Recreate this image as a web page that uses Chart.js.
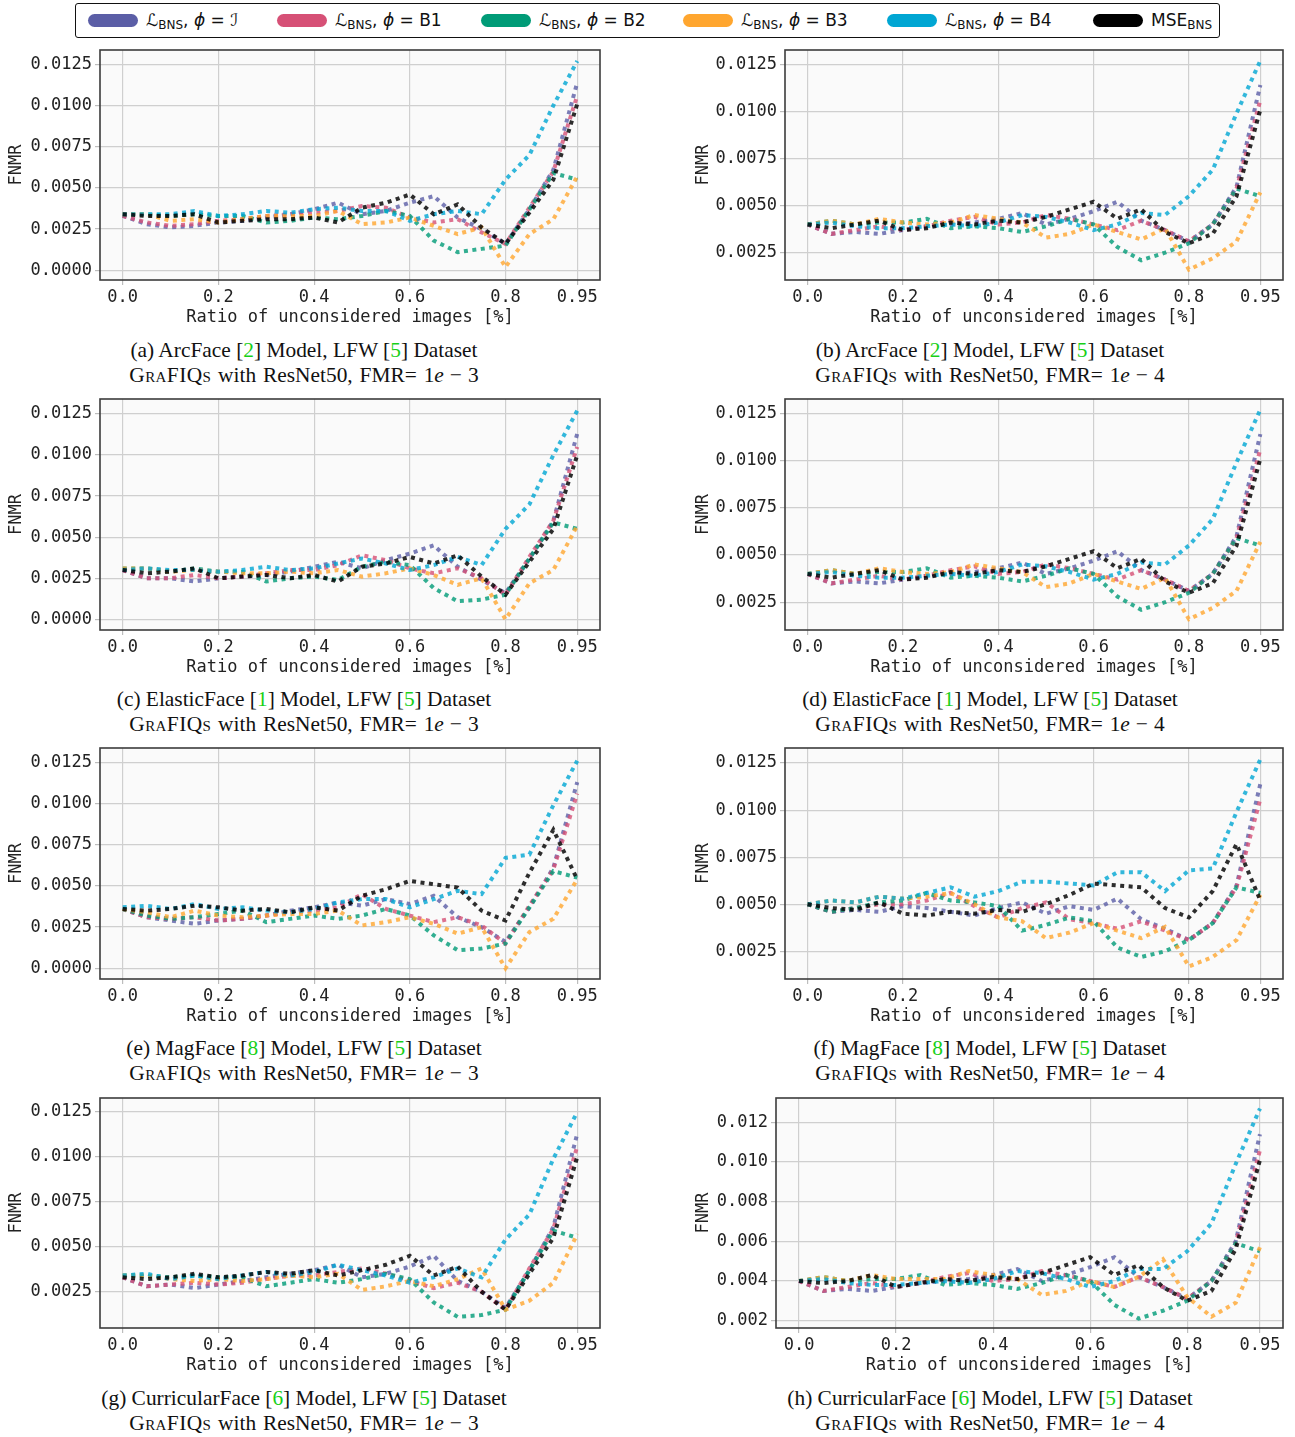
<!DOCTYPE html>
<html>
<head>
<meta charset="utf-8">
<script src="https://cdn.jsdelivr.net/npm/chart.js@4.4.1/dist/chart.umd.min.js"></script>
<style>
  body { margin: 0; background: #fff; width: 1295px; height: 1437px; position: relative; overflow: hidden; }
  #legend { position: absolute; left: 75px; top: 3px; width: 1143px; height: 33px; border: 1.5px solid #111; border-radius: 3px;
            font-family: 'DejaVu Sans'; font-size: 17px; color: #111; }
  .item { position: absolute; top: 0; height: 33px; white-space: nowrap; }
  .pill { position: absolute; top: 10px; left: 0; width: 50px; height: 13px; border-radius: 7px; }
  .txt { position: absolute; left: 58px; top: 5px; line-height: 22px; }
  .txt sub { font-size: 12px; vertical-align: -3px; line-height: 0; }
  .box { position: absolute; }
  .cap { position: absolute; width: 640px; text-align: center; font-family: 'Liberation Serif'; font-size: 21.4px; line-height: 25px; color: #111; }
  .line2 { word-spacing: 1.5px; }
  .g { color: #18d018; }
  .sc { font-variant: small-caps; letter-spacing: 0.4px; }
  .op { display: inline-block; margin: 0 6px; }
</style>
</head>
<body>
<div id="legend"></div>
<div id="panels"></div>
<script>
// x positions (ratio of unconsidered images)
const ratios = [0, 0.05, 0.1, 0.15, 0.2, 0.25, 0.3, 0.35, 0.4, 0.45, 0.5, 0.55, 0.6, 0.65, 0.7, 0.75, 0.8, 0.85, 0.9, 0.95];
const xTicks = [0, 0.2, 0.4, 0.6, 0.8, 0.95];
const xTickLabels = ['0.0', '0.2', '0.4', '0.6', '0.8', '0.95'];
const yTicksLow = [0, 0.0025, 0.005, 0.0075, 0.01, 0.0125];
const yTicksHigh = [0.0025, 0.005, 0.0075, 0.01, 0.0125];
const yTicksMilli = [0.002, 0.004, 0.006, 0.008, 0.01, 0.012];

const seriesNames = ['ℒ<sub>BNS</sub>, <i>ϕ</i> = ℐ', 'ℒ<sub>BNS</sub>, <i>ϕ</i> = B1', 'ℒ<sub>BNS</sub>, <i>ϕ</i> = B2',
                     'ℒ<sub>BNS</sub>, <i>ϕ</i> = B3', 'ℒ<sub>BNS</sub>, <i>ϕ</i> = B4', 'MSE<sub>BNS</sub>'];
const seriesColors = ['#5b5ea6', '#d65076', '#009b77', '#ffa62f', '#00a6d3', '#000000'];

// (a) ArcFace, FMR 1e-3
const a_I   = [0.0033,0.0028,0.0026,0.0027,0.0029,0.0030,0.0032,0.0034,0.0037,0.0041,0.0034,0.0036,0.0041,0.0045,0.0032,0.0025,0.0016,0.0037,0.0061,0.0114];
const a_B1  = [0.0033,0.0029,0.0027,0.0028,0.0030,0.0031,0.0033,0.0034,0.0035,0.0036,0.0039,0.0038,0.0032,0.0029,0.0031,0.0023,0.0016,0.0038,0.0060,0.0106];
const a_B2  = [0.0034,0.0034,0.0033,0.0034,0.0033,0.0033,0.0029,0.0030,0.0032,0.0031,0.0033,0.0036,0.0033,0.0018,0.0011,0.0013,0.0015,0.0037,0.0059,0.0055];
const a_B3  = [0.0034,0.0034,0.0030,0.0031,0.0029,0.0031,0.0033,0.0033,0.0033,0.0036,0.0028,0.0029,0.0032,0.0027,0.0022,0.0026,0.0002,0.0022,0.0031,0.0057];
const a_B4  = [0.0034,0.0034,0.0034,0.0036,0.0033,0.0034,0.0036,0.0035,0.0037,0.0038,0.0036,0.0036,0.0030,0.0034,0.0036,0.0034,0.0055,0.0070,0.0100,0.0127];
const a_MSE = [0.0034,0.0033,0.0033,0.0034,0.0029,0.0030,0.0031,0.0031,0.0032,0.0029,0.0038,0.0041,0.0046,0.0034,0.0040,0.0026,0.0016,0.0035,0.0055,0.0101];

// (b) ArcFace, FMR 1e-4
const b_I   = [0.0040,0.0035,0.0036,0.0035,0.0037,0.0039,0.0040,0.0041,0.0043,0.0046,0.0040,0.0043,0.0047,0.0052,0.0042,0.0037,0.0031,0.0040,0.0060,0.0114];
const b_B1  = [0.0040,0.0035,0.0037,0.0039,0.0037,0.0039,0.0042,0.0044,0.0040,0.0041,0.0045,0.0043,0.0040,0.0037,0.0042,0.0037,0.0031,0.0040,0.0059,0.0106];
const b_B2  = [0.0040,0.0042,0.0040,0.0041,0.0041,0.0043,0.0038,0.0039,0.0038,0.0036,0.0039,0.0043,0.0040,0.0028,0.0021,0.0025,0.0030,0.0040,0.0059,0.0055];
const b_B3  = [0.0040,0.0042,0.0040,0.0043,0.0041,0.0040,0.0041,0.0045,0.0043,0.0041,0.0033,0.0035,0.0040,0.0036,0.0032,0.0038,0.0016,0.0022,0.0031,0.0057];
const b_B4  = [0.0040,0.0041,0.0039,0.0038,0.0038,0.0039,0.0040,0.0039,0.0041,0.0045,0.0044,0.0041,0.0037,0.0040,0.0046,0.0045,0.0055,0.0069,0.0099,0.0127];
const b_MSE = [0.0040,0.0038,0.0040,0.0042,0.0037,0.0038,0.0041,0.0040,0.0042,0.0041,0.0044,0.0048,0.0052,0.0043,0.0048,0.0036,0.0030,0.0035,0.0055,0.0101];

// (c) ElasticFace, FMR 1e-3
const c_I   = [0.0030,0.0025,0.0025,0.0023,0.0025,0.0026,0.0027,0.0029,0.0032,0.0035,0.0031,0.0036,0.0040,0.0045,0.0032,0.0024,0.0016,0.0037,0.0060,0.0113];
const c_B1  = [0.0030,0.0025,0.0025,0.0027,0.0025,0.0026,0.0028,0.0030,0.0030,0.0033,0.0039,0.0036,0.0031,0.0028,0.0031,0.0025,0.0015,0.0038,0.0060,0.0105];
const c_B2  = [0.0031,0.0031,0.0029,0.0031,0.0029,0.0029,0.0023,0.0025,0.0026,0.0024,0.0032,0.0035,0.0033,0.0019,0.0011,0.0012,0.0015,0.0037,0.0059,0.0055];
const c_B3  = [0.0031,0.0031,0.0029,0.0030,0.0029,0.0028,0.0028,0.0029,0.0028,0.0030,0.0026,0.0028,0.0031,0.0027,0.0021,0.0025,0.0000,0.0022,0.0030,0.0057];
const c_B4  = [0.0030,0.0031,0.0030,0.0030,0.0029,0.0030,0.0032,0.0030,0.0031,0.0034,0.0037,0.0034,0.0030,0.0033,0.0038,0.0033,0.0055,0.0070,0.0100,0.0127];
const c_MSE = [0.0030,0.0028,0.0029,0.0031,0.0025,0.0026,0.0027,0.0025,0.0027,0.0023,0.0032,0.0034,0.0038,0.0034,0.0039,0.0026,0.0015,0.0035,0.0055,0.0100];

// (d) ElasticFace, FMR 1e-4
const d_I   = [0.0040,0.0035,0.0036,0.0035,0.0037,0.0039,0.0040,0.0041,0.0043,0.0046,0.0040,0.0043,0.0047,0.0052,0.0042,0.0037,0.0031,0.0040,0.0060,0.0114];
const d_B1  = [0.0040,0.0035,0.0037,0.0039,0.0037,0.0039,0.0042,0.0044,0.0040,0.0041,0.0045,0.0043,0.0040,0.0037,0.0042,0.0037,0.0031,0.0040,0.0059,0.0106];
const d_B2  = [0.0040,0.0042,0.0040,0.0041,0.0041,0.0043,0.0038,0.0039,0.0038,0.0036,0.0039,0.0043,0.0040,0.0028,0.0021,0.0025,0.0030,0.0040,0.0059,0.0055];
const d_B3  = [0.0040,0.0042,0.0040,0.0043,0.0041,0.0040,0.0041,0.0045,0.0043,0.0041,0.0033,0.0035,0.0040,0.0036,0.0032,0.0038,0.0016,0.0022,0.0031,0.0057];
const d_B4  = [0.0040,0.0041,0.0039,0.0038,0.0038,0.0039,0.0040,0.0039,0.0041,0.0045,0.0044,0.0041,0.0037,0.0040,0.0046,0.0045,0.0055,0.0069,0.0099,0.0127];
const d_MSE = [0.0040,0.0038,0.0040,0.0042,0.0037,0.0038,0.0041,0.0040,0.0042,0.0041,0.0044,0.0048,0.0052,0.0043,0.0048,0.0036,0.0030,0.0035,0.0055,0.0101];

// (e) MagFace, FMR 1e-3
const e_I   = [0.0036,0.0031,0.0029,0.0027,0.0029,0.0030,0.0032,0.0035,0.0037,0.0040,0.0038,0.0042,0.0039,0.0044,0.0031,0.0025,0.0016,0.0037,0.0061,0.0113];
const e_B1  = [0.0036,0.0031,0.0030,0.0031,0.0029,0.0030,0.0032,0.0034,0.0035,0.0037,0.0045,0.0036,0.0032,0.0028,0.0031,0.0026,0.0015,0.0038,0.0060,0.0106];
const e_B2  = [0.0036,0.0032,0.0030,0.0031,0.0033,0.0035,0.0028,0.0030,0.0032,0.0030,0.0032,0.0036,0.0032,0.0020,0.0011,0.0012,0.0015,0.0037,0.0059,0.0055];
const e_B3  = [0.0036,0.0034,0.0031,0.0035,0.0032,0.0031,0.0032,0.0033,0.0033,0.0035,0.0026,0.0028,0.0031,0.0027,0.0021,0.0025,0.0000,0.0022,0.0030,0.0054];
const e_B4  = [0.0037,0.0038,0.0036,0.0039,0.0036,0.0037,0.0035,0.0034,0.0036,0.0040,0.0042,0.0042,0.0037,0.0042,0.0047,0.0045,0.0067,0.0069,0.0099,0.0126];
const e_MSE = [0.0036,0.0035,0.0036,0.0038,0.0037,0.0035,0.0036,0.0034,0.0037,0.0035,0.0044,0.0048,0.0053,0.0051,0.0049,0.0035,0.0029,0.0058,0.0084,0.0054];

// (f) MagFace, FMR 1e-4
const f_I   = [0.0050,0.0046,0.0047,0.0046,0.0049,0.0048,0.0046,0.0044,0.0048,0.0051,0.0045,0.0049,0.0047,0.0053,0.0042,0.0037,0.0031,0.0040,0.0060,0.0114];
const f_B1  = [0.0050,0.0046,0.0048,0.0050,0.0050,0.0052,0.0056,0.0049,0.0043,0.0048,0.0051,0.0042,0.0040,0.0037,0.0041,0.0036,0.0031,0.0040,0.0059,0.0106];
const f_B2  = [0.0050,0.0046,0.0048,0.0051,0.0052,0.0056,0.0052,0.0051,0.0049,0.0036,0.0039,0.0043,0.0041,0.0027,0.0022,0.0025,0.0031,0.0040,0.0059,0.0056];
const f_B3  = [0.0050,0.0052,0.0051,0.0054,0.0053,0.0054,0.0056,0.0050,0.0043,0.0041,0.0032,0.0035,0.0040,0.0036,0.0032,0.0038,0.0017,0.0022,0.0031,0.0055];
const f_B4  = [0.0050,0.0052,0.0051,0.0054,0.0053,0.0056,0.0059,0.0054,0.0057,0.0062,0.0062,0.0061,0.0060,0.0067,0.0067,0.0057,0.0068,0.0069,0.0099,0.0127];
const f_MSE = [0.0050,0.0048,0.0047,0.0051,0.0045,0.0044,0.0046,0.0045,0.0047,0.0046,0.0050,0.0055,0.0061,0.0060,0.0059,0.0048,0.0043,0.0057,0.0082,0.0052];

// (g) CurricularFace, FMR 1e-3
const g_I   = [0.0033,0.0028,0.0029,0.0027,0.0029,0.0031,0.0033,0.0035,0.0037,0.0040,0.0033,0.0035,0.0039,0.0045,0.0031,0.0025,0.0016,0.0037,0.0061,0.0113];
const g_B1  = [0.0033,0.0028,0.0029,0.0030,0.0029,0.0030,0.0032,0.0034,0.0034,0.0036,0.0038,0.0035,0.0031,0.0027,0.0030,0.0025,0.0015,0.0038,0.0060,0.0106];
const g_B2  = [0.0034,0.0034,0.0033,0.0034,0.0033,0.0033,0.0028,0.0030,0.0032,0.0030,0.0032,0.0035,0.0032,0.0019,0.0011,0.0012,0.0015,0.0037,0.0059,0.0055];
const g_B3  = [0.0034,0.0034,0.0032,0.0031,0.0032,0.0031,0.0032,0.0034,0.0033,0.0035,0.0026,0.0028,0.0031,0.0028,0.0032,0.0038,0.0015,0.0020,0.0030,0.0057];
const g_B4  = [0.0034,0.0035,0.0032,0.0034,0.0032,0.0034,0.0036,0.0034,0.0036,0.0040,0.0037,0.0034,0.0030,0.0033,0.0038,0.0033,0.0054,0.0068,0.0099,0.0125];
const g_MSE = [0.0033,0.0032,0.0033,0.0035,0.0033,0.0034,0.0036,0.0035,0.0037,0.0034,0.0037,0.0040,0.0045,0.0034,0.0039,0.0025,0.0015,0.0035,0.0055,0.0100];

// (h) CurricularFace, FMR 1e-4
const h_I   = [0.0040,0.0035,0.0036,0.0035,0.0037,0.0039,0.0040,0.0041,0.0043,0.0046,0.0040,0.0043,0.0047,0.0052,0.0042,0.0037,0.0031,0.0040,0.0060,0.0114];
const h_B1  = [0.0040,0.0035,0.0037,0.0039,0.0037,0.0039,0.0042,0.0044,0.0040,0.0041,0.0045,0.0043,0.0040,0.0037,0.0042,0.0037,0.0031,0.0040,0.0059,0.0106];
const h_B2  = [0.0040,0.0042,0.0040,0.0041,0.0041,0.0043,0.0038,0.0039,0.0038,0.0036,0.0039,0.0043,0.0040,0.0028,0.0021,0.0025,0.0030,0.0040,0.0059,0.0055];
const h_B3  = [0.0040,0.0042,0.0040,0.0043,0.0041,0.0041,0.0041,0.0045,0.0043,0.0041,0.0033,0.0035,0.0040,0.0037,0.0042,0.0051,0.0032,0.0022,0.0029,0.0057];
const h_B4  = [0.0040,0.0041,0.0039,0.0038,0.0038,0.0039,0.0040,0.0039,0.0041,0.0045,0.0044,0.0041,0.0037,0.0040,0.0046,0.0046,0.0055,0.0069,0.0099,0.0127];
const h_MSE = [0.0040,0.0039,0.0040,0.0043,0.0037,0.0039,0.0041,0.0040,0.0042,0.0041,0.0044,0.0048,0.0052,0.0043,0.0048,0.0037,0.0030,0.0035,0.0056,0.0101];

const captions = [
  ['(a) ArcFace [<span class="g">2</span>] Model, LFW [<span class="g">5</span>] Dataset', '3'],
  ['(b) ArcFace [<span class="g">2</span>] Model, LFW [<span class="g">5</span>] Dataset', '4'],
  ['(c) ElasticFace [<span class="g">1</span>] Model, LFW [<span class="g">5</span>] Dataset', '3'],
  ['(d) ElasticFace [<span class="g">1</span>] Model, LFW [<span class="g">5</span>] Dataset', '4'],
  ['(e) MagFace [<span class="g">8</span>] Model, LFW [<span class="g">5</span>] Dataset', '3'],
  ['(f) MagFace [<span class="g">8</span>] Model, LFW [<span class="g">5</span>] Dataset', '4'],
  ['(g) CurricularFace [<span class="g">6</span>] Model, LFW [<span class="g">5</span>] Dataset', '3'],
  ['(h) CurricularFace [<span class="g">6</span>] Model, LFW [<span class="g">5</span>] Dataset', '4']
];

// legend
const legendLeft = [12, 201, 405, 607, 811, 1017];
let legendHtml = '';
for (let i = 0; i < seriesNames.length; i++) {
  legendHtml += `<div class="item" style="left:${legendLeft[i]}px"><span class="pill" style="background:${seriesColors[i]}"></span><span class="txt">${seriesNames[i]}</span></div>`;
}
document.getElementById('legend').innerHTML = legendHtml;

Chart.defaults.font.family = 'DejaVu Sans Mono';
Chart.defaults.font.size = 17;
Chart.defaults.color = '#222';

// plot background + frame around the axes
const framePlugin = {
  id: 'frame',
  beforeDraw(chart) {
    const {ctx, chartArea: a} = chart;
    ctx.save();
    ctx.fillStyle = '#fafafa';
    ctx.fillRect(a.left, a.top, a.right - a.left, a.bottom - a.top);
    ctx.restore();
  },
  afterDraw(chart) {
    const {ctx, chartArea: a} = chart;
    ctx.save();
    ctx.strokeStyle = '#3c3c3c';
    ctx.lineWidth = 1.6;
    ctx.strokeRect(a.left, a.top, a.right - a.left, a.bottom - a.top);
    ctx.restore();
  }
};

function hexA(hex, a) {
  const n = parseInt(hex.slice(1), 16);
  return `rgba(${(n >> 16) & 255},${(n >> 8) & 255},${n & 255},${a})`;
}

function makePanel(idx, series, yMin, yMax, yTicks, dec, lay) {
  const wrap = document.createElement('div');
  wrap.className = 'box';
  wrap.style.left = lay.left + 'px';
  wrap.style.top = (lay.plotTop - 6) + 'px';
  const w = lay.width, h = lay.plotBottom - lay.plotTop + 6 + 52;
  wrap.innerHTML = `<canvas width="${w}" height="${h}" style="width:${w}px;height:${h}px"></canvas>`;
  document.getElementById('panels').appendChild(wrap);

  const datasets = series.map((arr, i) => ({
    data: ratios.map((x, k) => ({x: x, y: arr[k]})),
    borderColor: i == 5 ? 'rgba(0,0,0,0.82)' : hexA(seriesColors[i], 0.8),
    borderWidth: 4,
    borderDash: [4, 4.5],
    borderCapStyle: 'butt',
    pointRadius: 0,
    tension: 0,
    order: 5 - i
  }));

  new Chart(wrap.querySelector('canvas'), {
    type: 'line',
    data: {datasets: datasets},
    plugins: [framePlugin],
    options: {
      responsive: false,
      animation: false,
      layout: {padding: {top: 6, right: lay.padRight, left: 0, bottom: 0}},
      plugins: {legend: {display: false}, tooltip: {enabled: false}},
      scales: {
        x: {
          type: 'linear',
          min: -0.0475,
          max: 0.9975,
          afterBuildTicks: (s) => { s.ticks = xTicks.map(v => ({value: v})); },
          afterFit: (s) => { s.height = 52; s.paddingLeft = 0; s.paddingRight = 0; },
          ticks: {
            padding: 2,
            maxRotation: 0,
            callback: (v) => xTickLabels[xTicks.indexOf(v)]
          },
          grid: {color: '#cfcfcf', lineWidth: 1.2, tickLength: 5, tickColor: '#bdbdbd'},
          border: {display: false},
          title: {display: true, text: 'Ratio of unconsidered images [%]', padding: {top: 0, bottom: 4}}
        },
        y: {
          type: 'linear',
          min: yMin,
          max: yMax,
          afterBuildTicks: (s) => { s.ticks = yTicks.map(v => ({value: v})); },
          afterFit: (s) => { s.width = lay.yWidth; s.paddingTop = 0; s.paddingBottom = 0; },
          ticks: {padding: 3, callback: (v) => v.toFixed(dec)},
          grid: {color: '#cfcfcf', lineWidth: 1.2, tickLength: 5, tickColor: '#bdbdbd'},
          border: {display: false},
          title: {display: true, text: 'FNMR', padding: {top: lay.titlePad, bottom: 0}}
        }
      }
    }
  });

  // caption
  const cap = document.createElement('div');
  cap.className = 'cap';
  cap.style.left = (lay.capCenter - 320) + 'px';
  cap.style.top = (lay.plotTop + 288) + 'px';
  cap.innerHTML = `${captions[idx][0]}<br><span class="line2"><span class="sc">GraFIQs</span> with ResNet50, FMR=&nbsp;1<i>e</i><span class="op">−</span>${captions[idx][1]}</span>`;
  document.body.appendChild(cap);
}

const rowTop = [50, 399, 748, 1098];
const rowBottom = [280, 630, 979, 1328];
function leftLay(r) { return {left: 0, width: 610, yWidth: 100, padRight: 10, titlePad: 6, capCenter: 304, plotTop: rowTop[r], plotBottom: rowBottom[r]}; }
function rightLay(r, yw) { return {left: 680, width: 615, yWidth: yw, padRight: 12, titlePad: 13, capCenter: 990, plotTop: rowTop[r], plotBottom: rowBottom[r]}; }

makePanel(0, [a_I, a_B1, a_B2, a_B3, a_B4, a_MSE], -0.00059, 0.01337, yTicksLow, 4, leftLay(0));
makePanel(1, [b_I, b_B1, b_B2, b_B3, b_B4, b_MSE], 0.00105, 0.01326, yTicksHigh, 4, rightLay(0, 105));
makePanel(2, [c_I, c_B1, c_B2, c_B3, c_B4, c_MSE], -0.00065, 0.01341, yTicksLow, 4, leftLay(1));
makePanel(3, [d_I, d_B1, d_B2, d_B3, d_B4, d_MSE], 0.00103, 0.01326, yTicksHigh, 4, rightLay(1, 105));
makePanel(4, [e_I, e_B1, e_B2, e_B3, e_B4, e_MSE], -0.00065, 0.01337, yTicksLow, 4, leftLay(2));
makePanel(5, [f_I, f_B1, f_B2, f_B3, f_B4, f_MSE], 0.00103, 0.0133, yTicksHigh, 4, rightLay(2, 105));
makePanel(6, [g_I, g_B1, g_B2, g_B3, g_B4, g_MSE], 0.00048, 0.01328, yTicksHigh, 4, leftLay(3));
makePanel(7, [h_I, h_B1, h_B2, h_B3, h_B4, h_MSE], 0.00163, 0.01323, yTicksMilli, 3, rightLay(3, 96));
</script>
</body>
</html>
